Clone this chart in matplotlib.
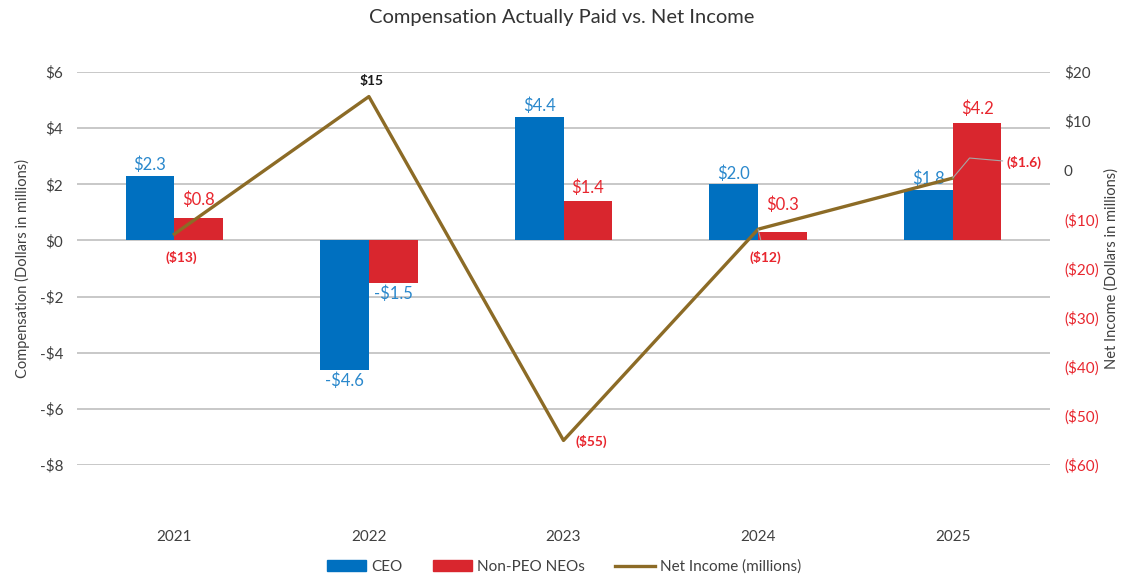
import numpy as np
import matplotlib
matplotlib.use("Agg")
import matplotlib.pyplot as plt
from matplotlib.patches import Patch
from matplotlib.lines import Line2D

plt.rcParams['font.family'] = ['Lato', 'DejaVu Sans']

# data
years = ['2021', '2022', '2023', '2024', '2025']
ceo = [2.3, -4.6, 4.4, 2.0, 1.8]
neo = [0.8, -1.5, 1.4, 0.3, 4.2]
net_income = [-13, 15, -55, -12, -1.6]

ceo_labels = ['$2.3', '-$4.6', '$4.4', '$2.0', '$1.8']
neo_labels = ['$0.8', '-$1.5', '$1.4', '$0.3', '$4.2']
ni_labels = ['($13)', '$15', '($55)', '($12)', '($1.6)']

left_ticks = [6, 4, 2, 0, -2, -4, -6, -8]
right_ticks = [20, 10, 0, -10, -20, -30, -40, -50, -60]

BLUE = '#0070C0'
RED = '#D9262E'
LBLUE = '#2A88CC'
LRED = '#E8262E'
OLIVE = '#8C6B26'
TXT = '#404040'

fig = plt.figure(figsize=(11.23, 5.83), dpi=100)
ax = fig.add_axes([77 / 1123, 1 - 465 / 583, (1050 - 77) / 1123, (465 - 72) / 583])
ax2 = ax.twinx()

x = np.arange(len(years))
w = 0.25
ax.bar(x - w / 2, ceo, w, color=BLUE, zorder=2)
ax.bar(x + w / 2, neo, w, color=RED, zorder=2)

ax.set_xlim(-0.5, 4.5)
ax.set_ylim(-8, 6)
ax.set_yticks(left_ticks)
ax.set_yticklabels([('-$%d' % -t) if t < 0 else ('$%d' % t) for t in left_ticks])
ax.grid(axis='y', color='#BFBFBF', lw=1.2, zorder=0)
ax.set_axisbelow(True)
ax.set_xticks(x)
ax.set_xticklabels(years)
ax.tick_params(axis='x', length=0, pad=47, labelsize=11, labelcolor=TXT)
ax.tick_params(axis='y', length=0, pad=10, labelsize=11, labelcolor=TXT)
ax.set_ylabel('Compensation (Dollars in millions)', fontsize=10.5, color=TXT, labelpad=7)

ax2.plot(x, net_income, color=OLIVE, lw=2.4, zorder=3)
ax2.set_ylim(-60, 20)
ax2.set_yticks(right_ticks)
ax2.set_yticklabels([('($%d)' % -t) if t < 0 else ('$%d' % t if t > 0 else '0') for t in right_ticks])
for t, lab in zip(right_ticks, ax2.get_yticklabels()):
    lab.set_color(LRED if t < 0 else TXT)
ax2.tick_params(axis='y', length=0, pad=10, labelsize=11)
ax2.set_ylabel('Net Income (Dollars in millions)', fontsize=10.5, color=TXT, labelpad=4)

for a in (ax, ax2):
    for s in a.spines.values():
        s.set_visible(False)

# bar data labels
neo_offsets = [7, 4, 4, 14, 4]
for i in range(len(years)):
    if ceo[i] >= 0:
        ax.annotate(ceo_labels[i], (x[i] - w / 2, ceo[i]), xytext=(0, 2), textcoords='offset points',
                    ha='center', va='bottom', fontsize=12, color=LBLUE)
    else:
        ax.annotate(ceo_labels[i], (x[i] - w / 2, ceo[i]), xytext=(0, -2), textcoords='offset points',
                    ha='center', va='top', fontsize=12, color=LBLUE)
    if neo[i] >= 0:
        ax.annotate(neo_labels[i], (x[i] + w / 2, neo[i]), xytext=(0, neo_offsets[i]), textcoords='offset points',
                    ha='center', va='bottom', fontsize=12, color=LRED)
    else:
        ax.annotate(neo_labels[i], (x[i] + w / 2, neo[i]), xytext=(0, -2), textcoords='offset points',
                    ha='center', va='top', fontsize=12, color=LBLUE)

# net income labels
lbl = dict(textcoords='offset points', fontsize=10, fontweight='bold', zorder=5)
ax2.annotate(ni_labels[0], (x[0], net_income[0]), xytext=(5, -17), ha='center', va='center', color=LRED, **lbl)
ax2.annotate(ni_labels[1], (x[1], net_income[1]), xytext=(2, 11), ha='center', va='center', color='#1a1a1a', **lbl)
ax2.annotate(ni_labels[2], (x[2], net_income[2]), xytext=(9, -1), ha='left', va='center', color=LRED, **lbl)
ax2.annotate(ni_labels[3], (x[3], net_income[3]), xytext=(5, -20), ha='center', va='center', color=LRED,
             arrowprops=dict(arrowstyle='-', color='#A6A6A6', lw=0.8, shrinkA=6, shrinkB=0), **lbl)
ax2.annotate(ni_labels[4], (x[4], net_income[4]), xytext=(39, 11), ha='left', va='center', color=LRED,
             arrowprops=dict(arrowstyle='-', color='#A6A6A6', lw=0.8, shrinkA=1, shrinkB=0,
                             connectionstyle='angle,angleA=175,angleB=50,rad=0'), **lbl)

fig.text(0.5, 1 - 17 / 583, 'Compensation Actually Paid vs. Net Income', ha='center', va='center',
         fontsize=14.5, color='#333333')

handles = [Patch(color=BLUE, label='CEO'), Patch(color=RED, label='Non-PEO NEOs'),
           Line2D([], [], color=OLIVE, lw=2.4, label='Net Income (millions)')]
fig.legend(handles=handles, loc='center', bbox_to_anchor=(0.502, 1 - 567 / 583), ncol=3, frameon=False,
           fontsize=11, handlelength=2.6, handleheight=0.7, handletextpad=0.3, columnspacing=2.0,
           labelcolor=TXT)

fig.savefig('out.png', dpi=100)
